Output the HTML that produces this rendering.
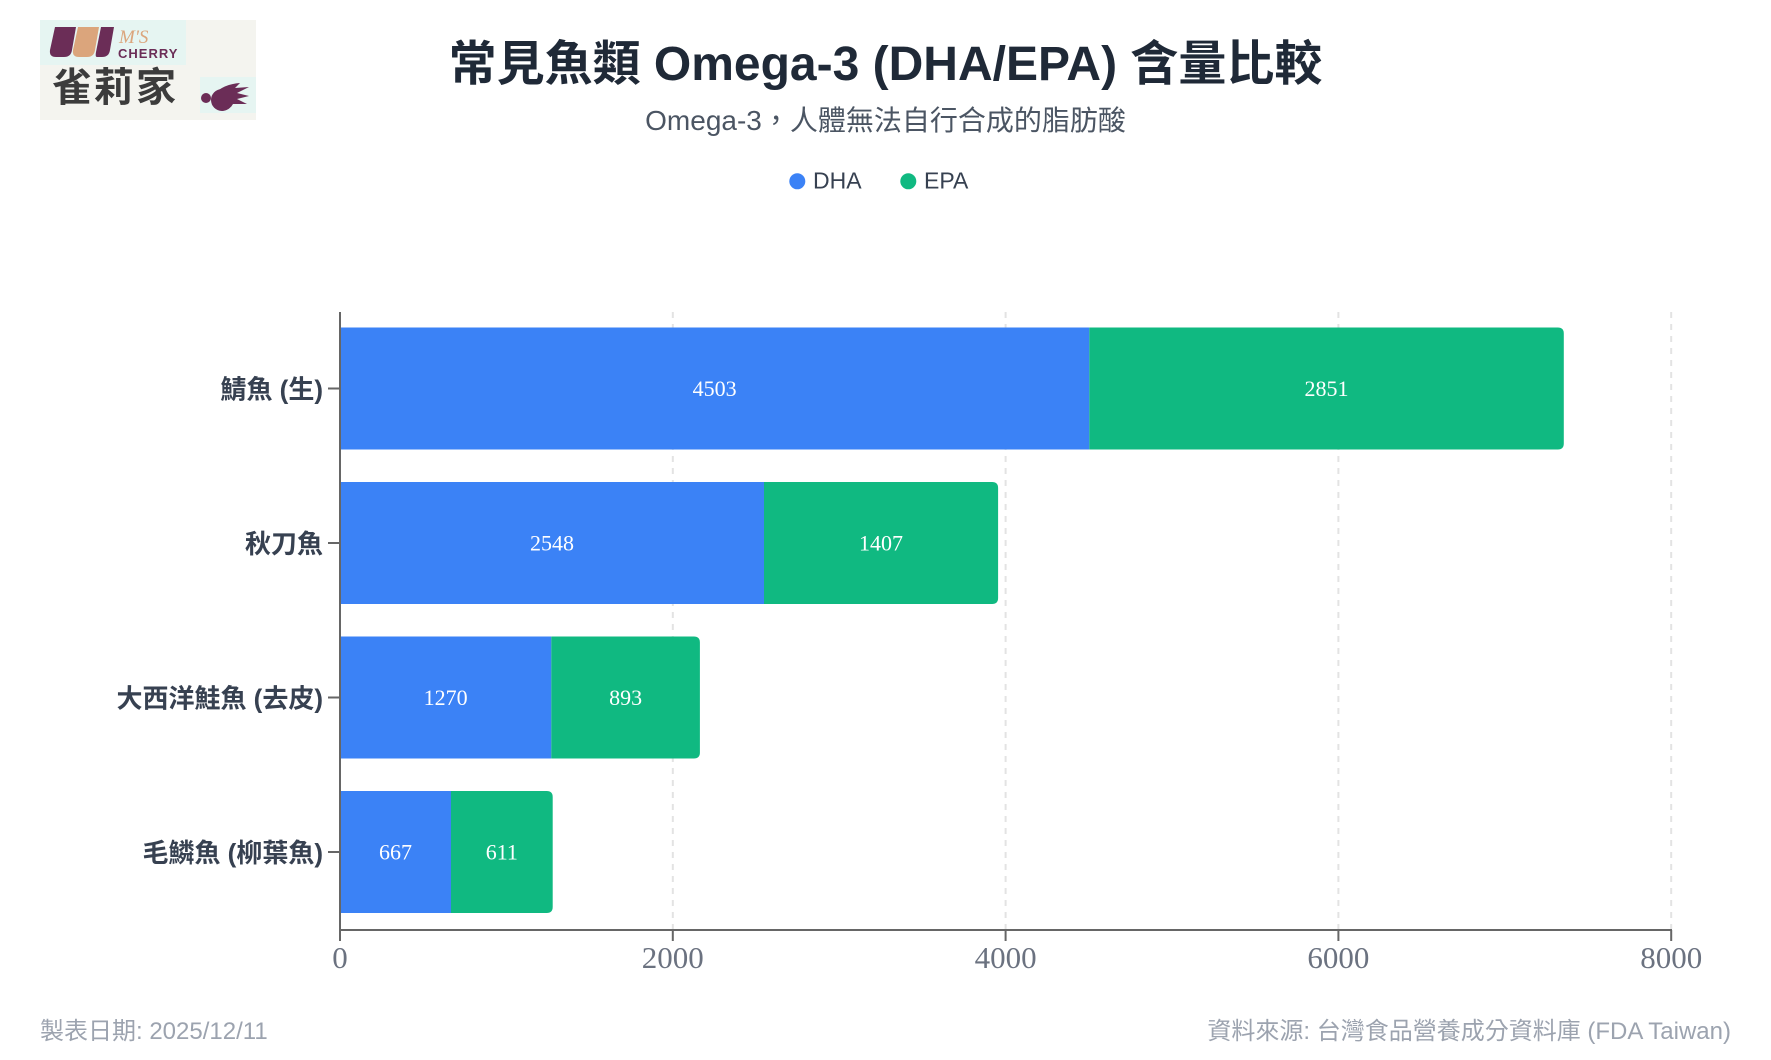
<!DOCTYPE html>
<html>
<head>
<meta charset="utf-8">
<style>
html,body{margin:0;padding:0;background:#fff;}
body{width:1771px;height:1060px;overflow:hidden;}
svg{display:block;}
.s{font-family:"Liberation Sans","Noto Sans CJK TC",sans-serif;}
.r{font-family:"Liberation Serif","Noto Serif CJK SC",serif;}
</style>
</head>
<body>
<svg width="1771" height="1060" viewBox="0 0 1771 1060" xmlns="http://www.w3.org/2000/svg">
  <!-- Logo -->
  <rect x="40" y="20" width="216" height="100" fill="#f4f4ef"/>
  <rect x="40" y="20" width="146" height="45" fill="#e6f5f2"/>
  <rect x="200" y="77" width="56" height="36" fill="#e6f5f2"/>
  <path d="M55 27 L76 27 L72 50 Q71 57 64 57 L56 57 Q49 57 50 50 Z" fill="#6b2d57"/>
  <path d="M78 27 L99 27 L95 50 Q94 57 87 57 L79 57 Q72 57 73 50 Z" fill="#dba57c"/>
  <path d="M101 27 L114 27 L110 50 Q109 57 102 57 L97 57 Q95 57 96 52 Z" fill="#6b2d57"/>
  <text x="119" y="43" class="r" font-size="19" font-style="italic" fill="#dba57c">M'S</text>
  <text x="118" y="58" class="s" font-size="13" font-weight="bold" fill="#6b2d57" letter-spacing="1">CHERRY</text>
  <text x="52" y="101" class="s" font-size="40" font-weight="bold" fill="#3c3c3c" letter-spacing="2">雀莉家</text>
  <circle cx="222" cy="100" r="11" fill="#6b2d57"/>
  <path d="M214 94 Q224 84 240 83 L235 88 L249 87 L237 93 L249 96 L237 99 L247 104 L233 104 Q230 110 222 111 Z" fill="#6b2d57"/>
  <circle cx="206" cy="98" r="5" fill="#6b2d57"/>

  <!-- Title -->
  <text x="885.5" y="80" text-anchor="middle" class="s" font-size="48" font-weight="bold" fill="#1f2937">常見魚類 Omega-3 (DHA/EPA) 含量比較</text>
  <text x="885.5" y="130" text-anchor="middle" class="s" font-size="28" fill="#4b5563">Omega-3，人體無法自行合成的脂肪酸</text>

  <!-- Legend -->
  <circle cx="797.3" cy="181.3" r="8" fill="#3b82f6"/>
  <text x="813" y="188.5" class="s" font-size="23" fill="#374151">DHA</text>
  <circle cx="908.3" cy="181.3" r="8" fill="#10b981"/>
  <text x="924" y="188.5" class="s" font-size="23" fill="#374151">EPA</text>

  <!-- Gridlines -->
  <g stroke="#e3e3e3" stroke-width="2" stroke-dasharray="6,6">
    <line x1="672.8" y1="312" x2="672.8" y2="929"/>
    <line x1="1005.6" y1="312" x2="1005.6" y2="929"/>
    <line x1="1338.4" y1="312" x2="1338.4" y2="929"/>
    <line x1="1671.2" y1="312" x2="1671.2" y2="929"/>
  </g>

  <!-- Bars -->
  <g>
    <rect x="340" y="327.5" width="749.3" height="122" fill="#3b82f6"/>
    <path d="M1089.3 327.5 H1557.8 Q1563.8 327.5 1563.8 333.5 V443.5 Q1563.8 449.5 1557.8 449.5 H1089.3 Z" fill="#10b981"/>
    <rect x="340" y="482" width="424" height="122" fill="#3b82f6"/>
    <path d="M764 482 H992.1 Q998.1 482 998.1 488 V598 Q998.1 604 992.1 604 H764 Z" fill="#10b981"/>
    <rect x="340" y="636.5" width="211.3" height="122" fill="#3b82f6"/>
    <path d="M551.3 636.5 H693.9 Q699.9 636.5 699.9 642.5 V752.5 Q699.9 758.5 693.9 758.5 H551.3 Z" fill="#10b981"/>
    <rect x="340" y="791" width="111" height="122" fill="#3b82f6"/>
    <path d="M451 791 H546.7 Q552.7 791 552.7 797 V907 Q552.7 913 546.7 913 H451 Z" fill="#10b981"/>
  </g>

  <!-- Bar value labels -->
  <g class="r" font-size="22" fill="#ffffff" text-anchor="middle">
    <text x="714.6" y="396">4503</text>
    <text x="1326.5" y="396">2851</text>
    <text x="552" y="550.5">2548</text>
    <text x="881" y="550.5">1407</text>
    <text x="445.6" y="705">1270</text>
    <text x="625.6" y="705">893</text>
    <text x="395.5" y="859.5">667</text>
    <text x="501.8" y="859.5">611</text>
  </g>

  <!-- Axes -->
  <g stroke="#666666" stroke-width="2">
    <line x1="340" y1="312" x2="340" y2="941"/>
    <line x1="339" y1="930" x2="1672" y2="930"/>
    <line x1="672.8" y1="930" x2="672.8" y2="941"/>
    <line x1="1005.6" y1="930" x2="1005.6" y2="941"/>
    <line x1="1338.4" y1="930" x2="1338.4" y2="941"/>
    <line x1="1671.2" y1="930" x2="1671.2" y2="941"/>
    <line x1="328" y1="388.5" x2="340" y2="388.5"/>
    <line x1="328" y1="543" x2="340" y2="543"/>
    <line x1="328" y1="697.5" x2="340" y2="697.5"/>
    <line x1="328" y1="852" x2="340" y2="852"/>
  </g>

  <!-- Y labels -->
  <g class="s" font-size="26" font-weight="bold" fill="#374151" text-anchor="end">
    <text x="323" y="398.5">鯖魚 (生)</text>
    <text x="323" y="553">秋刀魚</text>
    <text x="323" y="707.5">大西洋鮭魚 (去皮)</text>
    <text x="323" y="862">毛鱗魚 (柳葉魚)</text>
  </g>

  <!-- X tick labels -->
  <g class="r" font-size="31" fill="#6b7280" text-anchor="middle">
    <text x="340" y="968">0</text>
    <text x="672.8" y="968">2000</text>
    <text x="1005.6" y="968">4000</text>
    <text x="1338.4" y="968">6000</text>
    <text x="1671.2" y="968">8000</text>
  </g>

  <!-- Footer -->
  <text x="40" y="1039" class="s" font-size="24" fill="#9ca3af">製表日期: 2025/12/11</text>
  <text x="1731" y="1039" class="s" font-size="24" fill="#9ca3af" text-anchor="end">資料來源: 台灣食品營養成分資料庫 (FDA Taiwan)</text>
</svg>
</body>
</html>
